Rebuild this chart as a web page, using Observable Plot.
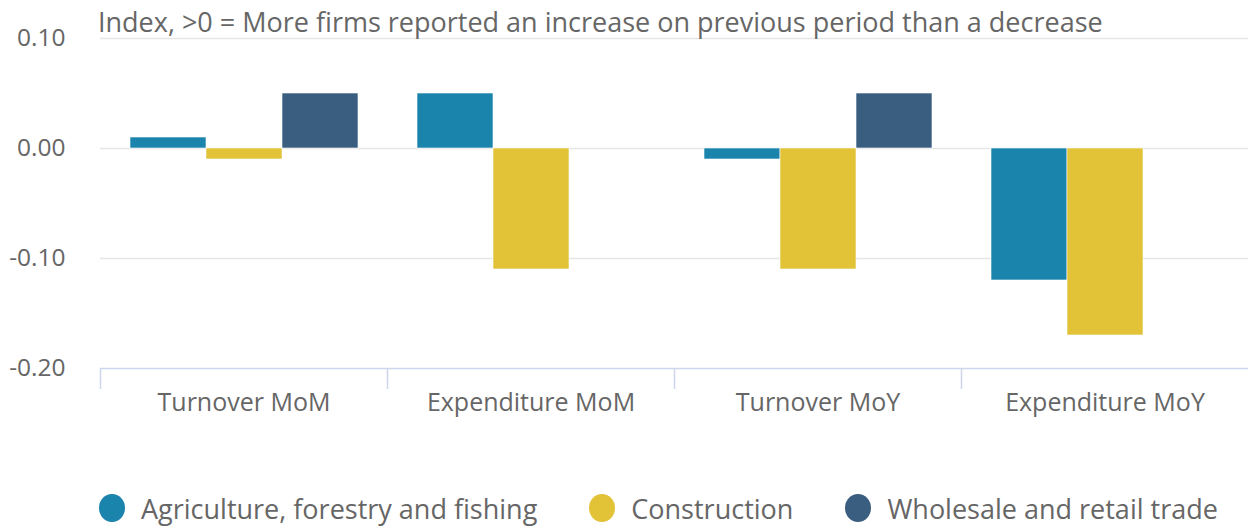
<!DOCTYPE html>
<html>
<head>
<meta charset="utf-8">
<script src="https://cdn.jsdelivr.net/npm/d3@7"></script>
<script src="https://cdn.jsdelivr.net/npm/@observablehq/plot@0.6"></script>
<style>
  html, body { margin: 0; padding: 0; background: #fff; }
  body { font-family: "Open Sans", sans-serif; color: #666; }
  #wrap { position: relative; width: 1249px; height: 526px; overflow: hidden; }
  #subtitle { position: absolute; left: 98px; top: 8px; font-size: 27px; line-height: 1; white-space: nowrap; color: #666; }
  #chart { position: absolute; left: 0; top: 0; }
  #legend { position: absolute; left: 99px; top: 495px; height: 27px; display: flex; align-items: center; font-size: 27px; line-height: 27px; color: #666; white-space: nowrap; }
  .item { display: flex; align-items: center; margin-right: 52px; height: 27px; }
  .sw { width: 26px; height: 28px; border-radius: 50%; margin-right: 16px; margin-top: -2px; }
</style>
</head>
<body>
<div id="wrap">
  <div id="chart"></div>
  <div id="subtitle"></div>
  <div id="legend"></div>
</div>
<script>
const subtitle = "Index, >0 = More firms reported an increase on previous period than a decrease";
const categories = ["Turnover MoM", "Expenditure MoM", "Turnover MoY", "Expenditure MoY"];
const seriesNames = ["Agriculture, forestry and fishing", "Construction", "Wholesale and retail trade"];
const seriesColors = ["#1a84ac", "#e2c237", "#3a5e80"];
const agriculture = [0.01, 0.05, -0.01, -0.12];
const construction = [-0.01, -0.11, -0.11, -0.17];
const wholesale = [0.05, null, 0.05, null];
const yTicks = [0.1, 0, -0.1, -0.2];

const seriesValues = [agriculture, construction, wholesale];
const data = [];
categories.forEach((c, i) => {
  seriesNames.forEach((s, j) => {
    const v = seriesValues[j][i];
    if (v != null) data.push({category: c, series: s, value: v});
  });
});

document.getElementById("subtitle").textContent = subtitle;

const plot = Plot.plot({
  width: 1249,
  height: 440,
  marginTop: 38,
  marginBottom: 72,
  marginLeft: 98,
  marginRight: 0,
  style: {fontFamily: "Open Sans", fontSize: "24.5px", color: "#666", background: "transparent"},
  fx: {domain: categories, padding: 0, label: null, tickSize: 0, tickPadding: 25},
  x: {domain: seriesNames, paddingInner: 0, paddingOuter: 0.375, axis: null},
  y: {domain: [-0.2, 0.1], ticks: yTicks, tickFormat: d => d.toFixed(2), tickSize: 0, tickPadding: 35, label: null},
  color: {domain: seriesNames, range: seriesColors},
  marks: [
    Plot.ruleY(yTicks.filter(t => t > -0.2), {stroke: "#e6e6e6", strokeWidth: 1.5}),
    Plot.barY(data, {fx: "category", x: "series", y: "value", fill: "series", stroke: "#ffffff", strokeWidth: 0.6}),
    Plot.ruleY([-0.2], {stroke: "#ccd6eb", strokeWidth: 1.5})
  ]
});

// slightly larger category labels
d3.select(plot).selectAll("g[aria-label='fx-axis tick label']").attr("font-size", "25px");

// category boundary tick marks using fx scale
const fx = plot.scale("fx");
const yS = plot.scale("y");
const y0 = yS.apply(-0.2);
const svg = d3.select(plot);
const bounds = categories.map(c => fx.apply(c));
svg.append("g").selectAll("line").data(bounds).join("line")
  .attr("x1", d => d + 0.5).attr("x2", d => d + 0.5)
  .attr("y1", y0).attr("y2", y0 + 21)
  .attr("stroke", "#ccd6eb").attr("stroke-width", 1.5);

document.getElementById("chart").appendChild(plot);

const legend = document.getElementById("legend");
seriesNames.forEach((s, i) => {
  const it = document.createElement("div");
  it.className = "item";
  const sw = document.createElement("span");
  sw.className = "sw";
  sw.style.background = seriesColors[i];
  const t = document.createElement("span");
  t.textContent = s;
  it.appendChild(sw); it.appendChild(t);
  legend.appendChild(it);
});
</script>
</body>
</html>
